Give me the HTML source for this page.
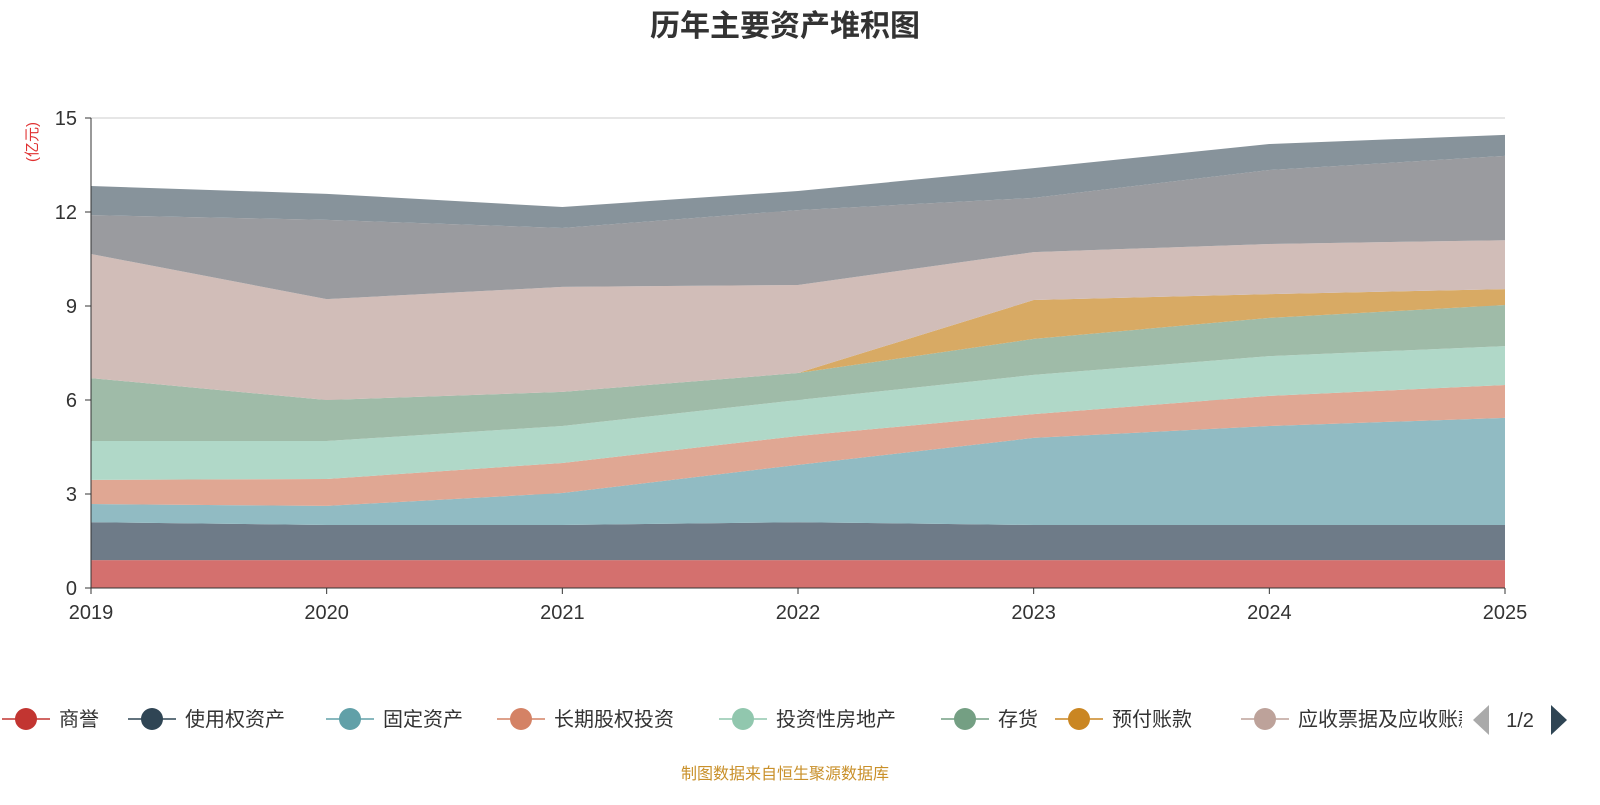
<!DOCTYPE html>
<html><head><meta charset="utf-8"><style>
body{margin:0;background:#fff;font-family:"Liberation Sans","Noto Sans CJK SC",sans-serif}
svg text{font-family:"Liberation Sans","Noto Sans CJK SC",sans-serif}
</style></head><body>
<svg id="c" width="1600" height="800">
<defs><clipPath id="lc"><rect x="0" y="690" width="1462" height="60"/></clipPath></defs>
<text x="785" y="36" text-anchor="middle" font-size="30" font-weight="bold" fill="#333">历年主要资产堆积图</text>
<text transform="translate(37,142) rotate(-90)" text-anchor="middle" font-size="15" fill="#e03030">(亿元)</text>
<g id="grid"></g><g id="areas"></g><g id="axes"></g><g id="legend"><g id="legitems" clip-path="url(#lc)"></g></g>
<text x="785" y="779" text-anchor="middle" font-size="16" fill="#c9902a">制图数据来自恒生聚源数据库</text>
</svg>
<script>
const years=["2019","2020","2021","2022","2023","2024","2025"];
const yTicks=[0,3,6,9,12,15];
const names=["商誉","使用权资产","固定资产","长期股权投资","投资性房地产","存货","预付账款","应收票据及应收账款","货币资金","其他"];
const s0=[0.89,0.89,0.89,0.89,0.89,0.89,0.89];
const s1=[1.21,1.12,1.12,1.21,1.12,1.12,1.12];
const s2=[0.58,0.61,1.02,1.83,2.78,3.16,3.42];
const s3=[0.77,0.86,0.96,0.92,0.76,0.96,1.05];
const s4=[1.24,1.21,1.18,1.15,1.25,1.27,1.24];
const s5=[2.01,1.31,1.09,0.86,1.15,1.22,1.31];
const s6=[0,0,0,0,1.24,0.76,0.51];
const s7=[3.96,3.22,3.35,2.81,1.53,1.60,1.56];
const s8=[1.24,2.53,1.88,2.39,1.73,2.36,2.69];
const s9=[0.93,0.83,0.67,0.61,0.95,0.83,0.67];
const series=[s0,s1,s2,s3,s4,s5,s6,s7,s8,s9];
const fills=["#d4706e","#6e7b88","#91bbc3","#e0a793","#b0d8c8","#9fbba8","#d8aa64","#d1bdb8","#9a9b9f","#87939b"];
const lcol=["#c23531","#2f4554","#61a0a8","#d48265","#91c7ae","#749f83","#ca8622","#bda29a"];
const X0=91,X1=1505,Y0=588,Y1=118,YMAX=15;
const x=i=>X0+(X1-X0)*i/(years.length-1);
const y=v=>Y0-(Y0-Y1)*v/YMAX;
const NS="http://www.w3.org/2000/svg";
function mk(t,a,p){const e=document.createElementNS(NS,t);for(const k in a)e.setAttribute(k,a[k]);p.appendChild(e);return e;}
const grid=document.getElementById('grid'),areas=document.getElementById('areas'),axes=document.getElementById('axes'),leg=document.getElementById('legend'),li=document.getElementById('legitems');
yTicks.forEach(t=>{
 if(t>0){const l=mk('line',{x1:X0,x2:X1,y1:y(t),y2:y(t),stroke:t==15?'#ccc':'#bbb','stroke-width':1},grid);
 
 }
 const tx=mk('text',{x:X0-14,y:y(t)+7,'text-anchor':'end','font-size':20,fill:'#333'},axes);tx.textContent=t;
 
 
 mk('line',{x1:X0-6,x2:X0,y1:y(t),y2:y(t),stroke:'#333'},axes);
});
let base=years.map(()=>0);
series.forEach((s,k)=>{
 const top=base.map((b,i)=>b+s[i]);
 let d='M'+top.map((v,i)=>x(i)+','+y(v)).join('L');
 for(let i=years.length-1;i>=0;i--)d+='L'+x(i)+','+y(base[i]);
 const p=mk('path',{d:d+'Z',fill:fills[k]},areas);
 
 
 base=top;
});
mk('line',{x1:X0,x2:X0,y1:Y1,y2:Y0,stroke:'#333'},axes);
mk('line',{x1:X0,x2:X1,y1:Y0,y2:Y0,stroke:'#333'},axes);
years.forEach((yr,i)=>{
 mk('line',{x1:x(i),x2:x(i),y1:Y0,y2:Y0+6,stroke:'#333'},axes);
 const t=mk('text',{x:x(i),y:Y0+31,'text-anchor':'middle','font-size':20,fill:'#333'},axes);t.textContent=yr;
 
 
});
const lx=[2,128,326,497,719,941,1055,1241];
for(let k=0;k<8;k++){
 const g=mk('g',{},li);
 
 
 mk('line',{x1:lx[k],x2:lx[k]+48,y1:719,y2:719,stroke:lcol[k],'stroke-width':1.5},g);
 mk('circle',{cx:lx[k]+24,cy:719,r:11,fill:lcol[k]},g);
 const t=mk('text',{x:lx[k]+57,y:726,'font-size':20,fill:'#333'},g);t.textContent=names[k];
}
const pv=mk('path',{d:'M1489,705L1489,735L1473,720Z',fill:'#aaa'},leg);


const pg=mk('text',{x:1520,y:727,'text-anchor':'middle','font-size':20,fill:'#333'},leg);pg.textContent='1/2';


const nx=mk('path',{d:'M1551,705L1551,735L1567,720Z',fill:'#2f4554'},leg);


</script>
</body></html>
